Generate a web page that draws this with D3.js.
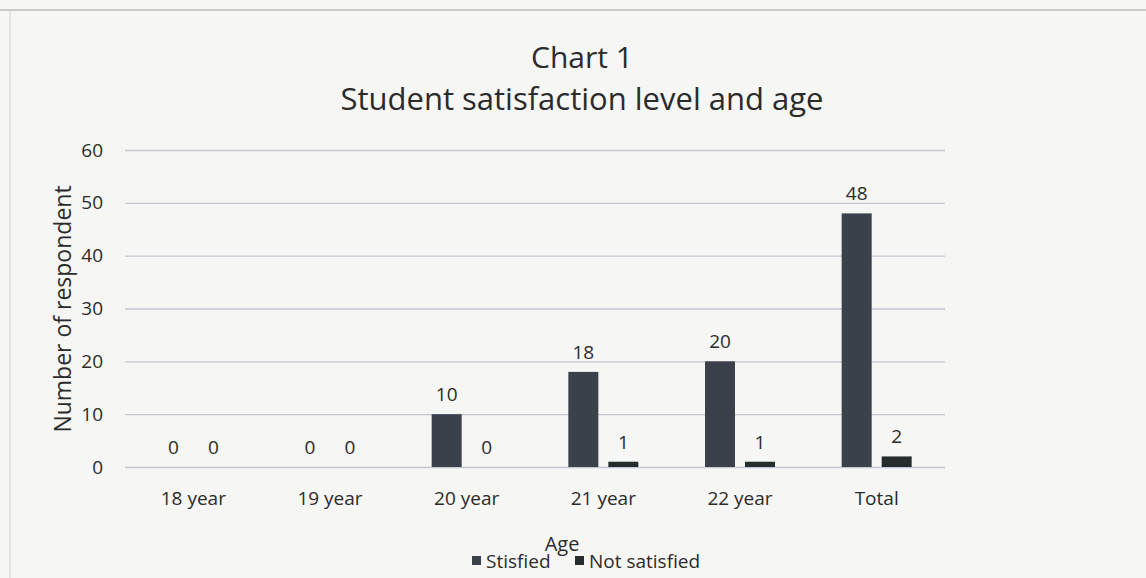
<!DOCTYPE html>
<html>
<head>
<meta charset="utf-8">
<script src="https://cdn.jsdelivr.net/npm/d3@7"></script>
<style>
  body { margin: 0; background: #f6f6f5; }
  svg { display: block; font-family: "Open Sans", Lato, sans-serif; }
</style>
</head>
<body>
<svg width="1146" height="578"></svg>
<script>
// Data
const categories = ["18 year", "19 year", "20 year", "21 year", "22 year", "Total"];
const seriesNames = ["Stisfied", "Not satisfied"];
const satisfied = [0, 0, 10, 18, 20, 48];
const notSatisfied = [0, 0, 0, 1, 1, 2];
const yTicks = [0, 10, 20, 30, 40, 50, 60];

const colors = {
    satisfied: "#3a414a",
    notSatisfied: "#272c2c",
    grid: "#c6c6d5",
    text: "#2b2b2b",
};
const font = "'Open Sans', sans-serif";

const width = 1146, height = 578;
const margin = { top: 150, right: 201, bottom: 111, left: 125 };

const svg = d3.select("svg");

// paper frame
svg.append("rect").attr("x", 0).attr("y", 0).attr("width", width).attr("height", height).attr("fill", "#f6f6f5");
svg.append("line").attr("x1", 0).attr("x2", width).attr("y1", 10).attr("y2", 10)
    .attr("stroke", "#bdbdbd").attr("stroke-width", 1.5);
svg.append("line").attr("x1", 10).attr("x2", 10).attr("y1", 10).attr("y2", height)
    .attr("stroke", "#d2d2d2").attr("stroke-width", 1);

const x0 = d3.scaleBand()
    .domain(categories)
    .range([margin.left, width - margin.right]);

const x1 = d3.scaleBand()
    .domain(seriesNames)
    .range([0, 70])
    .paddingInner(0.25);

const y = d3.scaleLinear()
    .domain([0, 60])
    .range([height - margin.bottom, margin.top]);

const rows = categories.map((c, i) => ({
    cat: c,
    values: [
        { key: "Stisfied", value: satisfied[i], color: colors.satisfied },
        { key: "Not satisfied", value: notSatisfied[i], color: colors.notSatisfied },
    ],
}));

// gridlines
svg.append("g")
    .attr("transform", `translate(${margin.left},0)`)
    .call(d3.axisLeft(y).tickValues(yTicks).tickSize(-(width - margin.left - margin.right)).tickFormat(""))
    .call(g => g.select(".domain").remove())
    .selectAll("line")
    .attr("stroke", colors.grid)
    .attr("stroke-width", 1.3);

// y tick labels
svg.append("g")
    .attr("transform", `translate(${margin.left - 19},0)`)
    .call(d3.axisLeft(y).tickValues(yTicks).tickSize(0))
    .call(g => g.select(".domain").remove())
    .call(g => g.attr("font-size", 19).attr("font-family", font))
    .selectAll("text")
    .attr("fill", colors.text);

// x tick labels
svg.append("g")
    .attr("transform", `translate(0,${height - margin.bottom + 21})`)
    .call(d3.axisBottom(x0).tickSize(0))
    .call(g => g.select(".domain").remove())
    .call(g => g.attr("font-size", 19).attr("font-family", font))
    .selectAll("text")
    .attr("fill", colors.text);

// bars
const groups = svg.append("g")
    .selectAll("g")
    .data(rows)
    .enter()
    .append("g")
    .attr("transform", d => `translate(${x0(d.cat) + x0.bandwidth() / 2 - 35},0)`);

groups.selectAll("rect")
    .data(d => d.values)
    .enter()
    .append("rect")
    .attr("x", d => x1(d.key))
    .attr("width", x1.bandwidth())
    .attr("y", d => y(d.value))
    .attr("height", d => y(0) - y(d.value))
    .attr("fill", d => d.color);

groups.selectAll("text")
    .data(d => d.values)
    .enter()
    .append("text")
    .attr("x", d => x1(d.key) + x1.bandwidth() / 2)
    .attr("y", d => y(d.value) - 13)
    .attr("text-anchor", "middle")
    .attr("font-size", 19)
    .attr("fill", colors.text)
    .text(d => d.value);

// titles
svg.append("text")
    .attr("x", 582).attr("y", 68)
    .attr("text-anchor", "middle")
    .attr("font-size", 30)
    .attr("fill", colors.text)
    .text("Chart 1");
svg.append("text")
    .attr("x", 582).attr("y", 110)
    .attr("text-anchor", "middle")
    .attr("font-size", 31)
    .attr("fill", colors.text)
    .text("Student satisfaction level and age");

// axis titles
svg.append("text")
    .attr("transform", `translate(71,309) rotate(-90)`)
    .attr("text-anchor", "middle")
    .attr("font-size", 23)
    .attr("fill", colors.text)
    .text("Number of respondent");
svg.append("text")
    .attr("x", 562).attr("y", 551)
    .attr("text-anchor", "middle")
    .attr("font-size", 20)
    .attr("fill", colors.text)
    .text("Age");

// legend
const legend = svg.append("g").attr("transform", "translate(472,568)");
const legendItems = [
    { name: seriesNames[0], color: colors.satisfied, x: 0 },
    { name: seriesNames[1], color: colors.notSatisfied, x: 103 },
];
const li = legend.selectAll("g").data(legendItems).enter().append("g")
    .attr("transform", d => `translate(${d.x},0)`);
li.append("rect").attr("x", 0).attr("y", -12).attr("width", 9).attr("height", 9).attr("fill", d => d.color);
li.append("text").attr("x", 14).attr("y", 0)
    .attr("font-size", 19).attr("fill", colors.text)
    .text(d => d.name);
</script>
</body>
</html>
